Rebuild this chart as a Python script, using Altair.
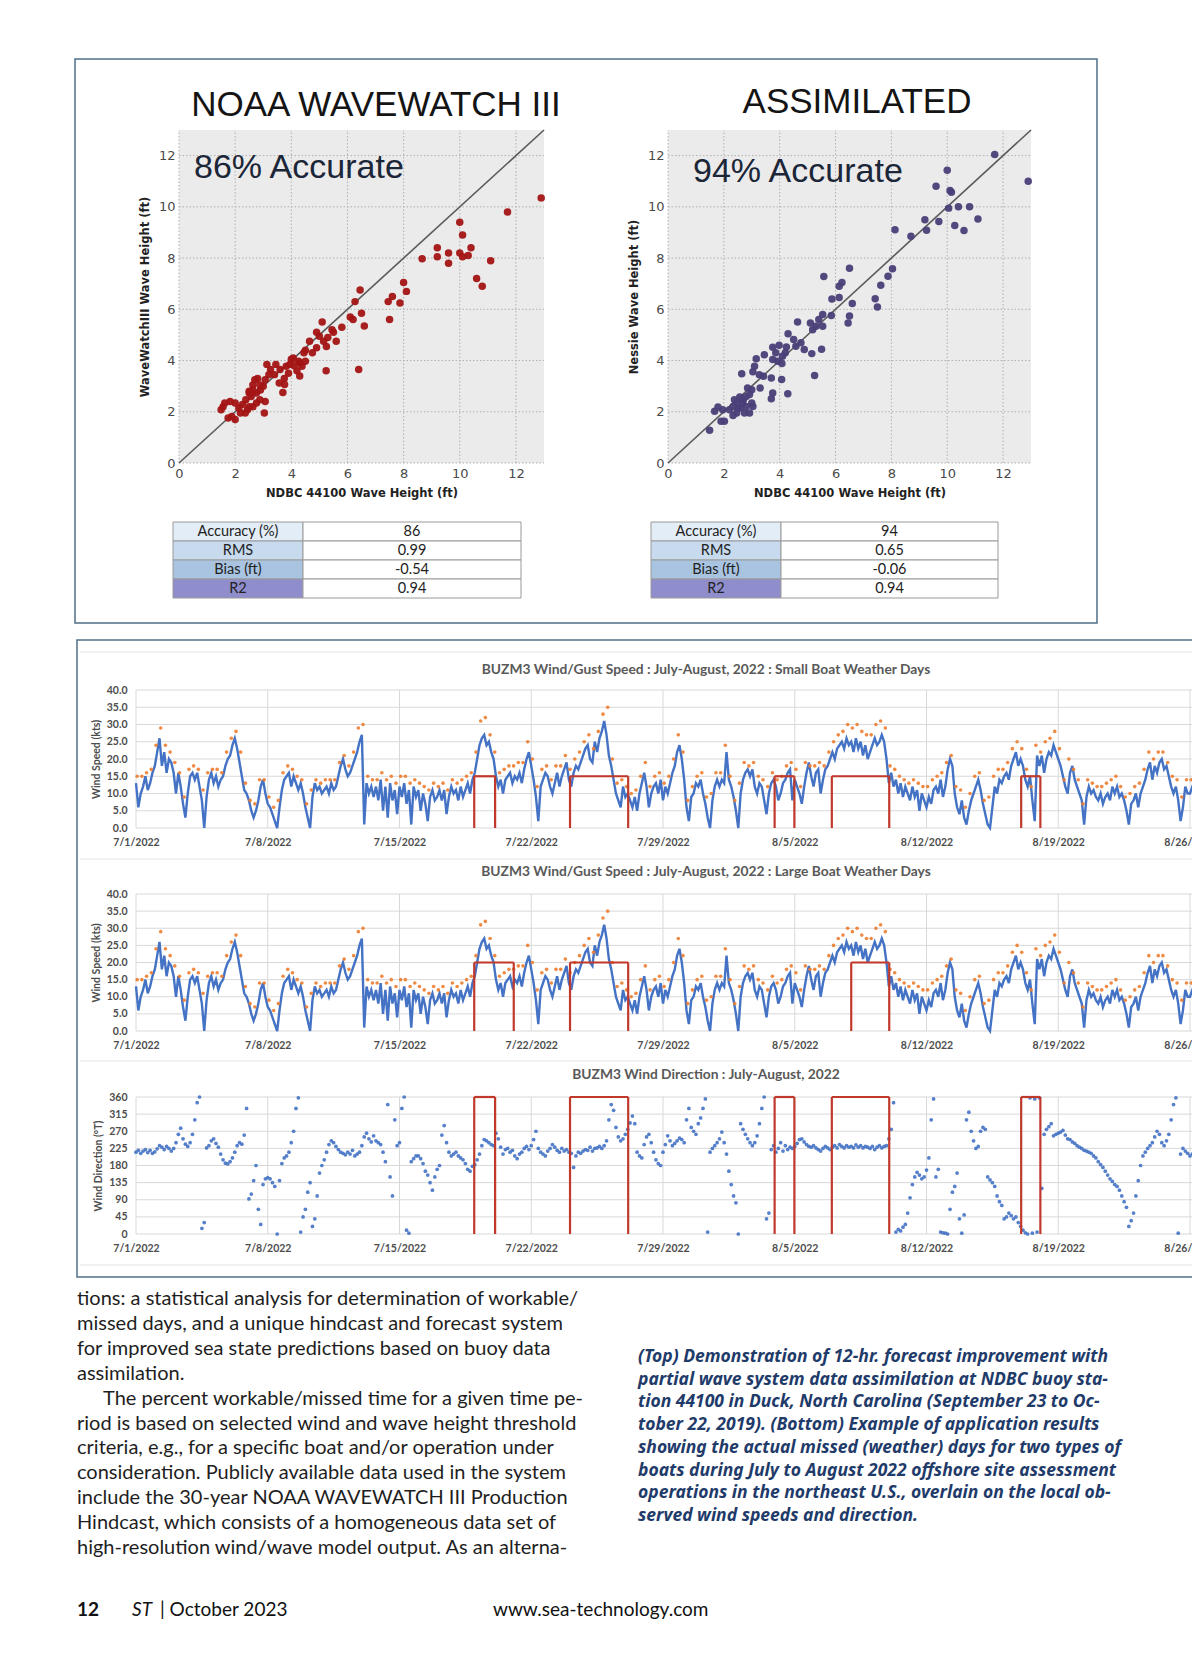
import altair as alt
import pandas as pd

W, H = 1184, 1652
M = 8
FONT = "Lato"

# ---------------- scatter data (NDBC x, model y), ft ----------------
NOAA_POINTS = [
    (12.9, 10.35), (11.7, 9.8), (10.0, 9.4), (10.1, 8.9), (9.2, 8.4), (9.2, 8.05), (9.6, 8.2), (9.6, 7.8),
    (10.0, 8.2), (10.1, 8.05), (10.3, 8.1), (10.4, 8.4), (11.1, 7.9), (10.6, 7.2), (10.8, 6.9), (8.66, 7.97),
    (8.0, 7.05), (8.1, 6.7), (7.6, 6.5), (7.45, 6.3), (7.87, 6.25), (7.5, 5.6),
    (6.45, 6.75), (6.27, 6.3), (6.5, 5.85), (6.1, 5.7), (6.2, 5.6), (6.6, 5.35), (6.4, 3.65), (5.8, 5.3),
    (5.1, 5.5), (5.24, 3.6), (4.9, 5.1), (5.0, 4.95), (5.15, 4.75), (5.3, 4.9), (5.5, 5.1), (5.6, 4.75),
    (5.45, 5.2), (5.25, 4.55), (4.9, 4.5), (4.75, 4.3), (4.65, 4.75), (4.5, 4.4), (4.45, 4.3), (4.26, 3.97),
    (4.1, 3.8), (4.0, 4.05), (3.95, 3.85), (4.2, 3.6), (4.3, 3.4), (3.9, 3.5), (3.75, 3.3), (3.7, 2.75),
    (3.6, 3.65), (3.45, 3.85), (3.13, 3.85), (3.26, 3.65), (3.4, 3.45), (3.07, 3.25), (3.0, 3.0), (2.9, 2.85),
    (2.8, 3.3), (2.7, 3.25), (2.63, 3.05), (2.5, 2.8), (2.57, 2.6), (2.38, 2.47), (2.26, 2.28), (2.44, 2.08),
    (2.63, 2.2), (2.76, 2.34), (2.88, 2.47), (3.07, 2.4), (3.04, 1.95), (2.5, 2.2), (2.13, 2.15), (2.0, 2.34),
    (1.82, 2.4), (1.63, 2.34), (1.5, 2.08), (1.57, 2.2), (1.88, 1.82), (2.0, 1.7), (1.75, 1.76), (2.5, 2.73),
    (2.76, 2.73), (2.63, 2.86), (2.88, 3.05), (3.2, 3.45), (3.57, 3.12), (3.76, 3.06), (2.36, 1.95), (2.19, 1.95),
    (4.07, 4.1), (4.3, 3.9), (4.38, 3.78), (4.5, 3.97), (3.82, 3.78),
]
ASSIM_POINTS = [
    (11.7, 12.04), (12.9, 11.0), (10.0, 11.43), (9.6, 10.8), (10.1, 10.64), (10.15, 10.57), (10.05, 9.95),
    (10.4, 10.0), (10.8, 10.0), (11.1, 9.53), (9.7, 9.43), (9.2, 9.5), (9.26, 9.09), (10.27, 9.27), (10.6, 9.08),
    (8.7, 8.85), (8.13, 9.11), (8.04, 7.58), (7.88, 7.29), (7.62, 6.94), (7.42, 6.41), (7.5, 6.09),
    (6.5, 7.6), (6.23, 7.05), (6.13, 6.9), (5.58, 7.28), (6.13, 6.46), (5.87, 6.4), (6.6, 6.23), (6.5, 5.74),
    (6.45, 5.47), (5.85, 5.76), (5.54, 5.8), (5.4, 5.6), (5.3, 5.34), (5.54, 5.34), (5.18, 5.2), (5.1, 5.47),
    (5.5, 4.44), (5.25, 3.42), (5.15, 4.27), (4.88, 4.43), (4.64, 5.5), (4.76, 4.69), (4.58, 4.56), (4.5, 4.82),
    (4.3, 5.05), (4.24, 4.53), (4.2, 4.3), (4.1, 4.17), (3.98, 4.6), (3.86, 4.3), (3.75, 4.52), (3.93, 3.97),
    (4.08, 3.88), (4.07, 3.26), (4.29, 2.7), (3.75, 4.04), (3.7, 3.32), (3.75, 2.73), (3.7, 2.51), (3.45, 4.23),
    (3.16, 4.07), (3.1, 3.78), (3.04, 3.56), (3.27, 3.45), (3.42, 3.39), (3.3, 2.93), (3.0, 2.86), (2.92, 2.67),
    (2.85, 2.93), (2.64, 3.48), (2.8, 2.6), (2.7, 2.47), (2.57, 2.58), (2.48, 2.34), (2.38, 2.47), (2.67, 2.34),
    (2.6, 2.15), (2.8, 2.21), (3.0, 2.34), (3.04, 2.21), (2.33, 2.21), (2.2, 2.08), (2.33, 1.85), (1.96, 2.08),
    (1.79, 2.19), (1.67, 2.02), (1.9, 1.63), (2.02, 1.63), (1.49, 1.28), (2.5, 2.15), (2.46, 1.95), (2.74, 1.95),
    (2.92, 1.95),
]
SCATTER_TICKS = [0, 2, 4, 6, 8, 10, 12]

TABLE_LABELS = ["Accuracy (%)", "RMS", "Bias (ft)", "R2"]
TABLE_NOAA = ["86", "0.99", "-0.54", "0.94"]
TABLE_ASSIM = ["94", "0.65", "-0.06", "0.94"]
TABLE_FILLS = ["#e3edf7", "#c8dbee", "#a8c4e1", "#8f8dcc"]

# ---------------- BUZM3 wind speed (kts), 8 samples per day (3-hourly) from 7/1 ----------------
WIND_BY_DAY = [
    [13, 6, 10, 12, 15, 11, 13, 16], [18, 22, 26, 18, 22, 16, 20, 19], [16, 10, 16, 12, 7, 3, 10, 15],
    [16, 14, 16, 12, 8, 0, 9, 14], [16, 13, 15, 12, 14, 15, 18, 20], [21, 24, 26, 23, 19, 15, 11, 10],
    [8, 5, 3, 5, 8, 12, 14, 10], [7, 6, 4, 2, 0, 6, 11, 14], [15, 16, 12, 15, 13, 11, 13, 10],
    [6, 3, 0, 9, 13, 11, 12, 10], [11, 12, 10, 13, 11, 12, 15, 18], [20, 17, 15, 16, 18, 20, 22, 25],
    [27, 1, 13, 10, 12, 9, 12, 8], [14, 5, 12, 3, 13, 8, 11, 4], [12, 9, 13, 7, 11, 1, 12, 9],
    [11, 5, 10, 7, 2, 9, 11, 8], [9, 11, 8, 11, 4, 9, 12, 10], [11, 8, 12, 9, 11, 13, 10, 14],
    [16, 20, 24, 26, 27, 24, 25, 22], [20, 15, 12, 14, 10, 14, 15, 16], [13, 15, 14, 16, 13, 17, 20, 22],
    [18, 14, 9, 2, 12, 14, 16, 15], [12, 10, 13, 16, 12, 15, 17, 19], [14, 12, 16, 18, 17, 19, 21, 23],
    [24, 20, 19, 25, 22, 26, 28, 31], [27, 21, 18, 14, 10, 8, 6, 12], [9, 10, 8, 6, 9, 5, 10, 13],
    [16, 12, 6, 10, 12, 13, 10, 14], [8, 12, 10, 13, 16, 18, 22, 24], [20, 14, 6, 2, 9, 10, 13, 12],
    [14, 10, 7, 3, 0, 8, 12, 14], [12, 14, 13, 22, 14, 12, 9, 5], [0, 10, 14, 16, 17, 15, 17, 12],
    [10, 13, 12, 8, 4, 10, 13, 14], [12, 8, 10, 13, 14, 16, 17, 8], [14, 12, 10, 7, 12, 16, 19, 15],
    [12, 16, 17, 10, 14, 17, 18, 20], [22, 20, 23, 24, 25, 23, 26, 24], [25, 22, 26, 23, 25, 21, 24, 20],
    [22, 24, 26, 24, 25, 27, 25, 20], [13, 16, 12, 14, 10, 13, 9, 12], [10, 8, 12, 9, 11, 5, 10, 8],
    [6, 9, 7, 11, 12, 10, 14, 9], [12, 17, 20, 18, 10, 6, 4, 8], [3, 1, 5, 8, 10, 12, 14, 11],
    [7, 4, 1, 0, 6, 12, 10, 14], [13, 15, 16, 14, 18, 20, 22, 18], [20, 18, 14, 12, 15, 8, 2, 21],
    [18, 21, 16, 20, 22, 21, 24, 22], [20, 18, 15, 12, 10, 16, 18, 14], [12, 10, 8, 1, 9, 12, 10, 11],
    [9, 8, 10, 7, 9, 10, 8, 12], [10, 12, 9, 10, 8, 5, 1, 7], [8, 10, 6, 10, 12, 14, 17, 19],
    [14, 18, 16, 19, 20, 17, 18, 15], [12, 10, 12, 8, 2, 6, 12, 10], [10, 12, 9, 14, 11, 13, 10, 12],
]
# gusts (kts), 4 samples per day
GUST_BY_DAY = [
    [15, 15, 16, 17], [24, 29, 24, 22], [19, 16, 9, 17], [18, 17, 11, 16], [17, 17, 16, 22], [26, 28, 22, 13],
    [8, 7, 14, 14], [9, 6, 8, 16], [18, 17, 15, 14], [7, 11, 14, 13], [14, 14, 14, 19], [21, 18, 22, 29],
    [30, 15, 14, 14], [16, 14, 15, 13], [15, 15, 13, 14], [13, 12, 11, 13], [12, 13, 11, 14], [13, 14, 15, 16],
    [22, 31, 32, 27], [22, 16, 17, 18], [18, 19, 19, 25], [20, 12, 17, 18], [14, 18, 18, 21], [17, 20, 22, 25],
    [27, 23, 28, 33], [35, 20, 13, 14], [12, 10, 11, 15], [19, 12, 15, 16], [13, 15, 20, 27], [22, 8, 12, 15],
    [16, 9, 10, 16], [16, 24, 15, 8], [13, 19, 18, 19], [15, 14, 12, 16], [14, 15, 18, 19], [17, 12, 19, 18],
    [18, 19, 18, 22], [25, 27, 28, 30], [29, 30, 28, 27], [27, 30, 31, 29], [18, 17, 15, 14], [13, 14, 13, 12],
    [12, 14, 15, 16], [19, 21, 12, 11], [6, 10, 15, 16], [8, 9, 15, 17], [17, 19, 23, 25], [23, 17, 12, 24],
    [22, 25, 26, 28], [23, 14, 20, 17], [14, 7, 14, 13], [12, 12, 13, 14], [15, 12, 9, 10], [12, 13, 17, 22],
    [20, 22, 22, 19], [15, 14, 9, 14], [14, 13, 16, 15],
]
# wind direction (deg T), 8 samples per day
WDIR_BY_DAY = [
    [215, 220, 212, 218, 222, 214, 220, 212], [216, 224, 232, 228, 222, 230, 225, 218],
    [225, 240, 262, 278, 250, 236, 230, 240], [262, 300, 345, 360, 15, 30, 226, 232],
    [245, 250, 238, 228, 210, 195, 186, 184], [190, 200, 215, 232, 240, 236, 260, 330],
    [92, 105, 140, 180, 65, 25, 130, 145], [148, 145, 135, 125, 0, 140, 185, 200],
    [205, 215, 240, 270, 330, 358, 5, 45], [65, 110, 135, 20, 40, 100, 160, 180],
    [195, 215, 235, 245, 240, 230, 222, 215], [212, 208, 215, 210, 220, 205, 210, 215],
    [232, 255, 265, 250, 242, 258, 245, 240], [235, 215, 190, 340, 150, 100, 300, 232],
    [240, 330, 360, 10, 2, 190, 198, 205], [205, 198, 185, 165, 155, 135, 115, 150],
    [170, 180, 260, 285, 240, 215, 205, 210], [215, 205, 200, 195, 185, 170, 165, 178],
    [182, 195, 210, 232, 248, 245, 240, 235], [232, 265, 250, 228, 210, 222, 225, 215],
    [220, 205, 198, 210, 215, 225, 230, 222], [232, 248, 270, 225, 215, 210, 205, 218],
    [225, 235, 228, 220, 215, 225, 218, 222], [215, 212, 175, 205, 215, 212, 218, 222],
    [220, 228, 218, 225, 226, 230, 225, 232], [245, 300, 340, 325, 280, 255, 245, 250],
    [262, 275, 292, 310, 290, 215, 205, 200], [235, 255, 262, 240, 215, 195, 185, 180],
    [215, 235, 258, 245, 232, 238, 245, 252], [248, 240, 300, 330, 280, 270, 262, 290],
    [305, 330, 355, 5, 215, 225, 232, 240], [250, 268, 240, 210, 165, 130, 100, 82],
    [0, 290, 275, 262, 250, 240, 232, 240], [258, 290, 330, 360, 40, 55, 222, 232],
    [215, 225, 240, 218, 232, 222, 228, 225], [230, 238, 248, 250, 242, 235, 230, 228],
    [232, 226, 222, 218, 225, 230, 226, 222], [228, 232, 226, 235, 230, 226, 232, 228],
    [230, 226, 234, 228, 232, 226, 230, 228], [225, 230, 222, 228, 232, 226, 230, 232],
    [250, 275, 345, 5, 12, 8, 18, 25], [55, 95, 130, 150, 162, 155, 145, 150],
    [168, 200, 300, 355, 150, 170, 5, 3], [2, 0, 65, 110, 125, 160, 40, 2],
    [50, 300, 320, 270, 245, 225, 230, 270], [280, 275, 150, 142, 135, 125, 100, 85],
    [75, 40, 45, 55, 48, 40, 45, 30], [20, 10, 3, 0, 358, 2, 355, 5],
    [358, 120, 262, 275, 282, 290, 258, 262], [265, 268, 272, 260, 250, 248, 242, 238],
    [232, 228, 225, 220, 218, 215, 212, 205], [200, 190, 182, 175, 165, 155, 145, 138],
    [130, 125, 115, 100, 85, 70, 20, 35], [55, 100, 140, 180, 205, 215, 225, 232],
    [240, 255, 270, 262, 240, 232, 245, 262], [300, 340, 358, 2, 210, 225, 218, 212],
    [205, 210, 200, 196, 205, 212, 205, 200],
]
# missed weather days (days after 7/1 00:00)
SMALL_START = [17.97, 23.06, 33.93, 36.97, 47.03]
SMALL_END = [19.08, 26.15, 34.98, 40.02, 48.05]
LARGE_START = [17.97, 23.06, 38.0]
LARGE_END = [20.07, 26.15, 40.02]
SMALL_LIMIT = 15
LARGE_LIMIT = 20
WEEK_DATES = ["2022-07-01", "2022-07-08", "2022-07-15", "2022-07-22", "2022-07-29",
              "2022-08-05", "2022-08-12", "2022-08-19", "2022-08-26"]
SPEED_TICKS = [0, 5, 10, 15, 20, 25, 30, 35, 40]
DIR_TICKS = [0, 45, 90, 135, 180, 225, 270, 315, 360]

BODY_LINES = [
    "tions: a statistical analysis for determination of workable/",
    "missed days, and a unique hindcast and forecast system",
    "for improved sea state predictions based on buoy data",
    "assimilation.",
    "The percent workable/missed time for a given time pe-",
    "riod is based on selected wind and wave height threshold",
    "criteria, e.g., for a specific boat and/or operation under",
    "consideration. Publicly available data used in the system",
    "include the 30-year NOAA WAVEWATCH III Production",
    "Hindcast, which consists of a homogeneous data set of",
    "high-resolution wind/wave model output. As an alterna-",
]
CAPTION_LINES = [
    "(Top) Demonstration of 12-hr. forecast improvement with",
    "partial wave system data assimilation at NDBC buoy sta-",
    "tion 44100 in Duck, North Carolina (September 23 to Oc-",
    "tober 22, 2019). (Bottom) Example of application results",
    "showing the actual missed (weather) days for two types of",
    "boats during July to August 2022 offshore site assessment",
    "operations in the northeast U.S., overlain on the local ob-",
    "served wind speeds and direction.",
]

# ---------------- layout (page pixels) ----------------
SC_TOP, SC_BOTTOM = 130, 463
SC_LEFT_A, SC_RIGHT_A = 179, 544
SC_LEFT_B, SC_RIGHT_B = 668, 1031
TS_LEFT, TS_RIGHT = 136, 1190
PANELS = [(690, 828), (894, 1031), (1097, 1234)]
LABEL_GRAY = "#4d4d4d"


def PX():
    return alt.Scale(domain=[M, M + W], range=[0, W], nice=False, zero=False)


def PY():
    return alt.Scale(domain=[M, M + H], range=[0, H], nice=False, zero=False)


def page_text(rows, size, color, weight="normal", style="normal", align="left", font=FONT):
    df = pd.DataFrame(rows, columns=["x", "y", "t"])
    return alt.Chart(df).mark_text(font=font, fontSize=size, color=color, fontWeight=weight,
                                   fontStyle=style, align=align, baseline="middle").encode(
        x=alt.X("x:Q", scale=PX(), axis=None),
        y=alt.Y("y:Q", scale=PY(), axis=None),
        text="t:N")


def page_rects(rows, **mk):
    df = pd.DataFrame(rows, columns=["x", "x2", "y", "y2", "fill"])
    return alt.Chart(df).mark_rect(**mk).encode(
        x=alt.X("x:Q", scale=PX(), axis=None), x2="x2:Q",
        y=alt.Y("y:Q", scale=PY(), axis=None), y2="y2:Q",
        fill=alt.Fill("fill:N", scale=None))


def page_frames(rows, **mk):
    df = pd.DataFrame(rows, columns=["x", "x2", "y", "y2"])
    return alt.Chart(df).mark_rect(fillOpacity=0, **mk).encode(
        x=alt.X("x:Q", scale=PX(), axis=None), x2="x2:Q",
        y=alt.Y("y:Q", scale=PY(), axis=None), y2="y2:Q")


def page_lines(rows, **mk):
    df = pd.DataFrame(rows, columns=["x", "x2", "y", "y2"])
    return alt.Chart(df).mark_rule(**mk).encode(
        x=alt.X("x:Q", scale=PX(), axis=None), x2="x2:Q",
        y=alt.Y("y:Q", scale=PY(), axis=None), y2="y2:Q")


def scatter(points, left, right, color, ytitle):
    def sx():
        return alt.Scale(domain=[0, 13], range=[left - M, right - M], nice=False, zero=False)

    def sy():
        return alt.Scale(domain=[0, 13], range=[SC_BOTTOM - M, SC_TOP - M], nice=False, zero=False)

    box = pd.DataFrame({"a": [0], "b": [13]})
    bg = alt.Chart(box).mark_rect(color="#ebebeb").encode(
        x=alt.X("a:Q", scale=sx(), axis=None), x2="b:Q",
        y=alt.Y("a:Q", scale=sy(), axis=None), y2="b:Q")
    ticks = pd.DataFrame({"v": SCATTER_TICKS, "lo": 0, "hi": 13})
    vgrid = alt.Chart(ticks).mark_rule(color="#b0b0b0", strokeDash=[1.5, 2], strokeWidth=1).encode(
        x=alt.X("v:Q", scale=sx(), axis=None),
        y=alt.Y("lo:Q", scale=sy(), axis=None), y2="hi:Q")
    hgrid = alt.Chart(ticks).mark_rule(color="#b0b0b0", strokeDash=[1.5, 2], strokeWidth=1).encode(
        y=alt.Y("v:Q", scale=sy(), axis=None),
        x=alt.X("lo:Q", scale=sx(), axis=None), x2="hi:Q")
    diag = alt.Chart(pd.DataFrame({"a": [0, 13]})).mark_line(color="#5a5a5a", strokeWidth=1.6).encode(
        x=alt.X("a:Q", scale=sx(), axis=None),
        y=alt.Y("a:Q", scale=sy(), axis=None))
    common = dict(domain=False, ticks=False, grid=False, labelFlush=False, values=SCATTER_TICKS, zindex=2,
                  labelFont="DejaVu Sans", labelFontSize=13, labelColor="#4a4a4a", labelPadding=4,
                  titleFont="DejaVu Sans", titleFontSize=11.5, titleFontWeight="bold", titleColor="#222222")
    pts = alt.Chart(pd.DataFrame(points, columns=["x", "y"])).mark_circle(size=56, color=color, opacity=0.95).encode(
        x=alt.X("x:Q", scale=sx(), axis=alt.Axis(orient="bottom", offset=(SC_BOTTOM - M) - H,
                                                  title="NDBC 44100 Wave Height (ft)", titlePadding=7, **common)),
        y=alt.Y("y:Q", scale=sy(), axis=alt.Axis(orient="left", offset=-(left - M),
                                                  title=ytitle, titlePadding=8, **common)))
    return [bg, vgrid, hgrid, diag, pts]


T0 = pd.Timestamp("2022-07-01")
T_END = pd.Timestamp("2022-09-01")


def dtv(s):
    ts = pd.Timestamp(s)
    return alt.DateTime(year=ts.year, month=ts.month, date=ts.day)


def tsx():
    return alt.Scale(domain=[dtv("2022-07-01"), dtv("2022-08-26")], range=[TS_LEFT - M, TS_RIGHT - M], nice=False)


def ts_base(top, bottom, ymax, yticks, ytitle, fmt):
    def sy():
        return alt.Scale(domain=[0, ymax], range=[bottom - M, top - M], nice=False, zero=False)

    hg_df = pd.DataFrame({"v": yticks, "a": [T0] * len(yticks), "b": [T_END] * len(yticks)})
    hg = alt.Chart(hg_df).mark_rule(color="#d9d9d9", strokeWidth=1, clip=True).encode(
        x=alt.X("a:T", scale=tsx(), axis=None), x2="b:T",
        y=alt.Y("v:Q", scale=sy(), axis=alt.Axis(
            orient="left", offset=-(TS_LEFT - M), values=yticks, format=fmt, domain=False, ticks=False,
            grid=False, zindex=2, labelFont=FONT, labelFontWeight="bold", labelFontSize=10.5, labelColor=LABEL_GRAY,
            labelPadding=9, title=ytitle, titleFont=FONT, titleFontWeight="bold", titleFontSize=10.5,
            titleColor=LABEL_GRAY, titlePadding=5)))
    wk = pd.to_datetime(pd.Series(WEEK_DATES))
    vg_df = pd.DataFrame({"d": wk, "lo": 0, "hi": ymax})
    vg = alt.Chart(vg_df).mark_rule(color="#d9d9d9", strokeWidth=1, clip=True).encode(
        x=alt.X("d:T", scale=tsx(), axis=alt.Axis(
            orient="bottom", offset=(bottom - M) - H, values=[dtv(d) for d in WEEK_DATES],
            format="%-m/%-d/%Y", labelFlush=False, domain=False, ticks=False, grid=False, zindex=2,
            labelFont=FONT, labelFontWeight="bold", labelFontSize=10.5, labelColor=LABEL_GRAY,
            labelPadding=9, title=None)),
        y=alt.Y("lo:Q", scale=sy(), axis=None), y2="hi:Q")
    return sy, [hg, vg]


def boxes(starts, ends, hi, sy):
    df = pd.DataFrame({
        "s": T0 + pd.to_timedelta(starts, unit="D"),
        "e": T0 + pd.to_timedelta(ends, unit="D"),
        "lo": 0, "hi": hi})
    mk = dict(color="#c0392b", strokeWidth=2.2, clip=True)
    left = alt.Chart(df).mark_rule(**mk).encode(
        x=alt.X("s:T", scale=tsx(), axis=None), y=alt.Y("lo:Q", scale=sy(), axis=None), y2="hi:Q")
    right = alt.Chart(df).mark_rule(**mk).encode(
        x=alt.X("e:T", scale=tsx(), axis=None), y=alt.Y("lo:Q", scale=sy(), axis=None), y2="hi:Q")
    topl = alt.Chart(df).mark_rule(**mk).encode(
        x=alt.X("s:T", scale=tsx(), axis=None), x2="e:T", y=alt.Y("hi:Q", scale=sy(), axis=None))
    return [left, right, topl]


def series_df(by_day, hours_step, offset_h=0):
    vals = [v for day in by_day for v in day]
    hrs = [offset_h + hours_step * i for i in range(len(vals))]
    return pd.DataFrame({"t": T0 + pd.to_timedelta(hrs, unit="h"), "v": vals})


wind_df = series_df(WIND_BY_DAY, 3)
gust_df = series_df(GUST_BY_DAY, 6, 1.5)
dir_df = series_df(WDIR_BY_DAY, 3)


def speed_panel(top, bottom, starts, ends, limit):
    sy, base = ts_base(top, bottom, 40, SPEED_TICKS, "Wind Speed (kts)", ".1f")
    line = alt.Chart(wind_df).mark_line(color="#4472c4", strokeWidth=2.4, clip=True).encode(
        x=alt.X("t:T", scale=tsx(), axis=None), y=alt.Y("v:Q", scale=sy(), axis=None))
    gust = alt.Chart(gust_df).mark_circle(color="#ed7d31", size=13, opacity=0.9, clip=True).encode(
        x=alt.X("t:T", scale=tsx(), axis=None), y=alt.Y("v:Q", scale=sy(), axis=None))
    return base + [line, gust] + boxes(starts, ends, limit, sy)


def dir_panel(top, bottom):
    sy, base = ts_base(top, bottom, 360, DIR_TICKS, "Wind Direction (°T)", "d")
    pts = alt.Chart(dir_df).mark_circle(color="#4472c4", size=14, opacity=0.9, clip=True).encode(
        x=alt.X("t:T", scale=tsx(), axis=None), y=alt.Y("v:Q", scale=sy(), axis=None))
    return base + [pts] + boxes(SMALL_START, SMALL_END, 360, sy)


layers = []
# panel separators
layers.append(page_lines([(80, 1200, 652, 652), (80, 1200, 859, 859), (80, 1200, 1061, 1061),
                          (80, 1200, 1265, 1265)], color="#e4e4e4", strokeWidth=1))

# scatter plots
layers += scatter(NOAA_POINTS, SC_LEFT_A, SC_RIGHT_A, "#a31414", "WaveWatchIII Wave Height (ft)")
layers += scatter(ASSIM_POINTS, SC_LEFT_B, SC_RIGHT_B, "#4a3f78", "Nessie Wave Height (ft)")
layers.append(page_text([(376, 105, "NOAA WAVEWATCH III"), (857, 102, "ASSIMILATED")],
                        35, "#141414", align="center", font="Liberation Sans"))
layers.append(page_text([(194, 168, "86% Accurate"), (693, 172, "94% Accurate")],
                        34, "#1b2638", font="Liberation Sans"))

# tables
ROW_TOP, ROW_H = 522, 19
cells = []
texts_l = []
for (tx0, tsplit, tx1, vals) in [(173, 303, 521, TABLE_NOAA), (651, 781, 998, TABLE_ASSIM)]:
    for i, (lab, val, fill) in enumerate(zip(TABLE_LABELS, vals, TABLE_FILLS)):
        y0 = ROW_TOP + i * ROW_H
        cells.append((tx0, tsplit, y0, y0 + ROW_H, fill))
        cells.append((tsplit, tx1, y0, y0 + ROW_H, "#ffffff"))
        texts_l.append(((tx0 + tsplit) / 2, y0 + ROW_H / 2, lab))
        texts_l.append(((tsplit + tx1) / 2, y0 + ROW_H / 2, val))
layers.append(page_rects(cells, stroke="#9a9a9a", strokeWidth=1))
layers.append(page_text(texts_l, 14.5, "#222222", align="center"))

# time-series panels
layers += speed_panel(PANELS[0][0], PANELS[0][1], SMALL_START, SMALL_END, SMALL_LIMIT)
layers += speed_panel(PANELS[1][0], PANELS[1][1], LARGE_START, LARGE_END, LARGE_LIMIT)
layers += dir_panel(PANELS[2][0], PANELS[2][1])
layers.append(page_text([
    (706, 670, "BUZM3 Wind/Gust Speed : July-August, 2022 : Small Boat Weather Days"),
    (706, 872, "BUZM3 Wind/Gust Speed : July-August, 2022 : Large Boat Weather Days"),
    (706, 1075, "BUZM3 Wind Direction : July-August, 2022"),
], 13.8, "#595959", weight="bold", align="center"))

# frames
layers.append(page_frames([(75, 1097, 59, 623), (77, 1240, 640, 1277)], stroke="#4f6f86", strokeWidth=1.5))

# article text
body_rows = []
for i, line in enumerate(BODY_LINES):
    body_rows.append((103 if i == 4 else 77, 1299 + i * 24.9, line))
layers.append(page_text(body_rows, 20, "#1e1e1e"))
cap_rows = [(638, 1357 + i * 22.7, line) for i, line in enumerate(CAPTION_LINES)]
layers.append(page_text(cap_rows, 17.5, "#1f3b6a", weight="bold", style="italic", font="Noto Sans"))

# footer
layers.append(page_text([(77, 1610, "12")], 19, "#111111", weight="bold"))
layers.append(page_text([(132, 1610, "ST")], 19, "#111111", style="italic"))
layers.append(page_text([(160, 1610, "| October 2023"), (493, 1610, "www.sea-technology.com")], 19, "#111111"))

chart = alt.layer(*layers).resolve_scale(x="independent", y="independent").properties(
    width=W, height=H, padding=0, autosize=alt.AutoSizeParams(type="none"), background="#ffffff"
).configure_view(strokeWidth=0)

chart.save("out.html", embed_options={"renderer": "svg", "actions": False})
